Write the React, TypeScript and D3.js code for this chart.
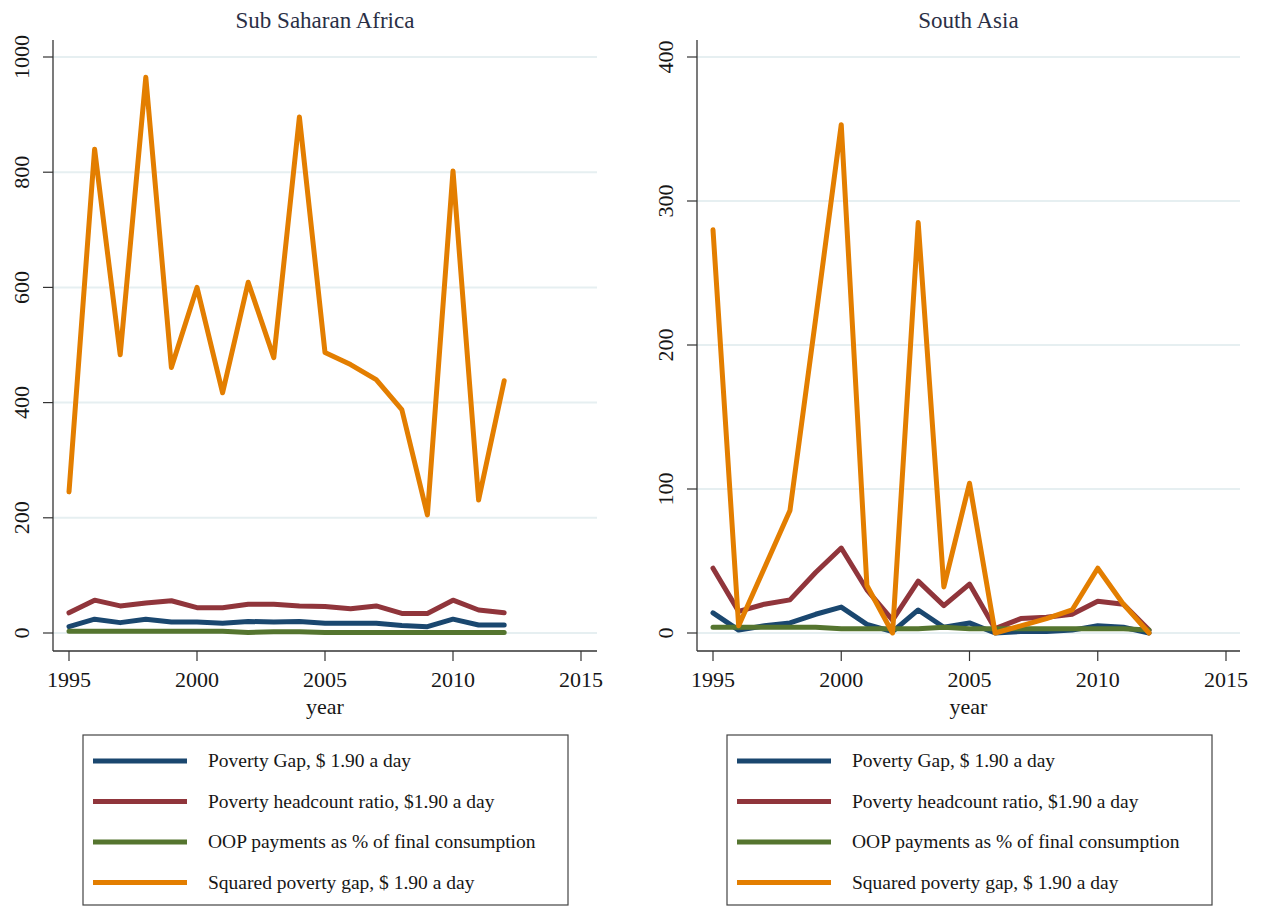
import React from "react";
import * as d3 from "d3";

// years shared by both panels
const years = [1995, 1996, 1997, 1998, 1999, 2000, 2001, 2002, 2003, 2004, 2005, 2006, 2007, 2008, 2009, 2010, 2011, 2012];

// Sub Saharan Africa
const ssaGap = [11, 24, 18, 24, 19, 19, 17, 20, 19, 20, 17, 17, 17, 13, 11, 24, 14, 14];
const ssaHeadcount = [35, 57, 47, 52, 56, 44, 44, 50, 50, 47, 46, 42, 47, 34, 34, 57, 40, 35];
const ssaOop = [3, 3, 3, 3, 3, 3, 3, 1, 2, 2, 1, 1, 1, 1, 1, 1, 1, 1];
const ssaSquared = [245, 840, 483, 965, 461, 600, 417, 609, 478, 896, 487, 466, 440, 388, 205, 802, 231, 438];

// South Asia
const saGap = [14, 2, 5, 7, 13, 18, 6, 1, 16, 4, 7, 0, 1, 1, 2, 5, 4, 0];
const saHeadcount = [45, 15, 20, 23, 42, 59, 30, 9, 36, 19, 34, 3, 10, 11, 13, 22, 20, 2];
const saOop = [4, 4, 4, 4, 4, 3, 3, 3, 3, 4, 3, 3, 3, 3, 3, 3, 3, 2];
const saSquared = [280, 5, 45, 85, 218, 353, 33, 0, 285, 32, 104, 0, 5, 10, 16, 45, 20, 0];

const xTicks = [1995, 2000, 2005, 2010, 2015];
const ssaTicks = [0, 200, 400, 600, 800, 1000];
const saTicks = [0, 100, 200, 300, 400];

const seriesNames = [
  "Poverty Gap, $ 1.90 a day",
  "Poverty headcount ratio, $1.90 a day",
  "OOP payments as % of final consumption",
  "Squared poverty gap, $ 1.90 a day",
];
const colors = ["#1a476f", "#90353b", "#55752f", "#e37e00"];

const font = "'Liberation Serif', 'DejaVu Serif', serif";
const axisColor = "#333";
const gridColor = "#e6eff1";
const textColor = "#161616";

function Panel({ title, left, right, x0, x1, yMax, yTicks, series, legendX }: any) {
  const top = 40;
  const bottom = 651;
  const x = d3.scaleLinear().domain([1995, 2015]).range([x0, x1]);
  const y = d3.scaleLinear().domain([0, yMax]).range([633, 57]);
  const line = d3
    .line<number>()
    .x((_, i) => x(years[i]))
    .y((v) => y(v));
  const cx = (left + right) / 2;
  return (
    <g>
      <text x={cx} y={28} textAnchor="middle" fontSize={23} fill="#2a2f45" fontFamily={font}>
        {title}
      </text>
      {yTicks.map((t: number) => (
        <g key={t}>
          <line x1={left} x2={right} y1={y(t)} y2={y(t)} stroke={gridColor} strokeWidth={2} />
          <line x1={left - 10} x2={left} y1={y(t)} y2={y(t)} stroke={axisColor} strokeWidth={1.2} />
          <text
            transform={`translate(${left - 24},${y(t)}) rotate(-90)`}
            textAnchor="middle"
            fontSize={22}
            fill={textColor}
            fontFamily={font}
          >
            {t}
          </text>
        </g>
      ))}
      <line x1={left} x2={left} y1={top} y2={bottom} stroke={axisColor} strokeWidth={1.3} />
      <line x1={left} x2={right} y1={bottom} y2={bottom} stroke={axisColor} strokeWidth={1.3} />
      {xTicks.map((t) => (
        <g key={t}>
          <line x1={x(t)} x2={x(t)} y1={bottom} y2={bottom + 10} stroke={axisColor} strokeWidth={1.2} />
          <text x={x(t)} y={bottom + 36} textAnchor="middle" fontSize={22} fill={textColor} fontFamily={font}>
            {t}
          </text>
        </g>
      ))}
      <text x={cx} y={bottom + 63} textAnchor="middle" fontSize={22} fill={textColor} fontFamily={font}>
        year
      </text>
      {series.map((s: number[], i: number) => (
        <path
          key={i}
          d={line(s) || ""}
          fill="none"
          stroke={colors[i]}
          strokeWidth={5}
          strokeLinejoin="round"
          strokeLinecap="round"
        />
      ))}
      <rect x={legendX} y={735} width={485} height={170} fill="white" stroke="#444" strokeWidth={1.2} />
      {seriesNames.map((n, i) => (
        <g key={n}>
          <line
            x1={legendX + 10}
            x2={legendX + 104}
            y1={761 + i * 40.5}
            y2={761 + i * 40.5}
            stroke={colors[i]}
            strokeWidth={5}
          />
          <text x={legendX + 125} y={761 + i * 40.5 + 6} fontSize={19.5} fill={textColor} fontFamily={font}>
            {n}
          </text>
        </g>
      ))}
    </g>
  );
}

export default function App() {
  return (
    <svg
      width={1270}
      height={907}
      style={{ position: "absolute", left: 0, top: 0, background: "white" }}
    >
      <Panel
        title="Sub Saharan Africa"
        left={53}
        right={597}
        x0={69}
        x1={581}
        yMax={1000}
        yTicks={ssaTicks}
        series={[ssaGap, ssaHeadcount, ssaOop, ssaSquared]}
        legendX={83}
      />
      <Panel
        title="South Asia"
        left={697}
        right={1240}
        x0={713}
        x1={1226}
        yMax={400}
        yTicks={saTicks}
        series={[saGap, saHeadcount, saOop, saSquared]}
        legendX={727}
      />
    </svg>
  );
}
